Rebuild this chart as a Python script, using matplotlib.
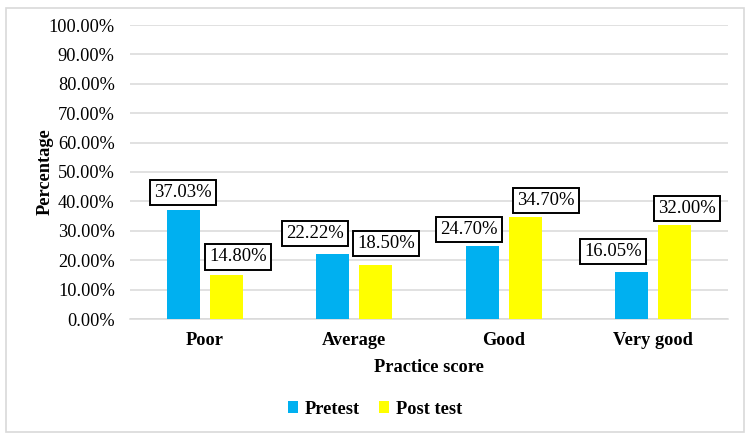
import matplotlib
matplotlib.use("Agg")
import matplotlib.pyplot as plt
import numpy as np
from matplotlib.patches import Rectangle
from matplotlib.ticker import FuncFormatter

categories = ["Poor", "Average", "Good", "Very good"]
pretest = [37.03, 22.22, 24.70, 16.05]
posttest = [14.80, 18.50, 34.70, 32.00]
series_names = ["Pretest", "Post test"]

# label offsets in pixels (dx, dy) for box placement, as in the reference
pre_offsets = [(0, 5), (-18, 8), (-13, 4), (-19, 8)]
post_offsets = [(12, 6), (10, 9), (21, 4), (12, 4)]

plt.rcParams['font.family'] = ['Liberation Serif', 'DejaVu Serif']
FS = 13.2

fig = plt.figure(figsize=(7.5, 4.41), dpi=100)
fig.patches.append(Rectangle((6/750, 1-432/441), (744-6)/750, (432-8)/441,
                             transform=fig.transFigure, fill=False,
                             edgecolor='#d9d9d9', linewidth=1.2))
ax = fig.add_axes([130/750, 1-319/441, (728-130)/750, (319-25)/441])

x = np.arange(len(categories))
w = 0.22
off = 0.144
blue = '#00B0F0'
yellow = '#FFFF00'
b1 = ax.bar(x - off, pretest, w, color=blue, label=series_names[0], zorder=3)
b2 = ax.bar(x + off, posttest, w, color=yellow, label=series_names[1], zorder=3)

ax.set_xlim(-0.5, len(categories) - 0.5)
ax.set_ylim(0, 100)
ax.set_yticks(np.arange(0, 101, 10))
ax.yaxis.set_major_formatter(FuncFormatter(lambda v, p: f"{v:.2f}%"))
ax.grid(axis='y', color='#d9d9d9', linewidth=1.1, zorder=0)
for s in ['top', 'right', 'left']:
    ax.spines[s].set_visible(False)
ax.spines['bottom'].set_color('#d9d9d9')
ax.spines['bottom'].set_linewidth(1.1)
ax.tick_params(axis='both', length=0, labelsize=FS)
ax.tick_params(axis='y', pad=11)
ax.tick_params(axis='x', pad=9.5)
ax.set_xticks(x)
ax.set_xticklabels(categories, fontweight='bold', fontsize=FS)
ax.set_xlabel("Practice score", fontweight='bold', fontsize=FS)
ax.xaxis.set_label_coords(0.5, -(367-319)/294, transform=ax.transAxes)
ax.xaxis.label.set_va('center')
ax.set_ylabel("Percentage", fontweight='bold', fontsize=FS)
ax.yaxis.set_label_coords(-(130-45)/598, 0.5)
ax.yaxis.label.set_va('center')

def label(bars, vals, offs):
    for b, v, (dx, dy) in zip(bars, vals, offs):
        ax.annotate(f"{v:.2f}%", (b.get_x() + b.get_width()/2, v),
                    xytext=(dx*0.72, dy*0.72 + 9), textcoords='offset points',
                    ha='center', va='center', fontsize=13.4, zorder=5,
                    bbox=dict(boxstyle='square,pad=0.22', fc='white', ec='black', lw=1.4))

label(b1, pretest, pre_offsets)
label(b2, posttest, post_offsets)

leg = fig.legend(handles=[b1, b2], labels=series_names, loc='center',
                 bbox_to_anchor=(0.5, 1-409/441), ncol=2, frameon=False,
                 prop={'weight': 'bold', 'size': FS}, handlelength=0.55,
                 handleheight=0.55, handletextpad=0.4, columnspacing=1.0)

fig.savefig("out.png", dpi=100)
